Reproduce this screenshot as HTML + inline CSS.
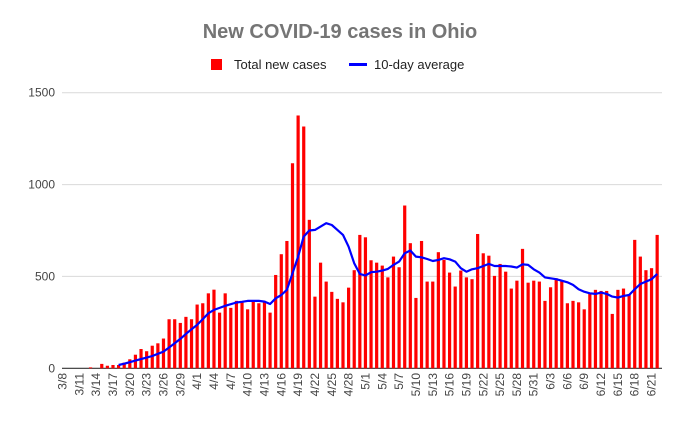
<!DOCTYPE html>
<html><head><meta charset="utf-8"><style>
body{margin:0;background:#fff;}
svg{display:block;font-family:"Liberation Sans",Arial,sans-serif;}
</style></head><body>
<svg id="chart" width="680" height="422">
<text x="340" y="38" text-anchor="middle" font-size="20" font-weight="bold" fill="#757575">New COVID-19 cases in Ohio</text>
<g>
<g><rect x="211" y="59" width="11" height="11" fill="#ff0000"/><text x="234" y="69" font-size="13" fill="#222">Total new cases</text></g>
<g><line x1="349" y1="64.5" x2="367" y2="64.5" stroke="#0000ff" stroke-width="3"/><text x="374" y="69" font-size="13" fill="#222">10-day average</text></g>
</g>
<g id="grid"></g><g id="bars"></g><g id="line"></g><g id="xt"></g>
</svg>
<script>
const startMonth=3, startDay=8;
const cases=[0,0,0,0,0,5,0,24,14,18,18,31,49,74,105,93,123,136,162,267,267,247,280,267,347,354,408,428,303,408,329,367,358,321,363,354,367,303,508,621,693,1116,1376,1316,808,390,575,472,416,378,359,439,534,726,713,588,575,559,495,608,550,886,681,383,693,472,472,632,590,521,445,532,495,485,731,626,613,503,568,526,434,477,650,466,477,472,367,441,490,477,354,367,359,321,405,427,421,421,296,427,434,399,699,608,534,545,726];
const avg=[null,null,null,null,null,null,null,null,null,null,18,25,33,42,50,58,67,79,91,113,136,160,187,212,236,268,300,318,329,340,349,358,362,367,367,367,363,350,381,399,427,517,608,717,750,753,771,790,780,753,726,662,572,514,505,523,526,532,541,563,581,626,641,608,604,595,584,590,599,593,581,545,526,539,545,557,568,557,557,557,554,548,566,563,539,521,495,490,485,477,468,454,430,417,408,405,412,405,390,385,394,399,430,459,472,485,514];
const yTicks=[0,500,1000,1500];
const x0=62.5,dx=5.61,y0=368.3,ky=275.6/1500;
const X=i=>x0+i*dx, Y=v=>y0-v*ky;
const NS="http://www.w3.org/2000/svg";
function mk(t,p,parent){const e=document.createElementNS(NS,t);for(const k in p)e.setAttribute(k,p[k]);parent.appendChild(e);return e;}
const grid=document.getElementById('grid');
yTicks.forEach(v=>{
 const l=mk('line',{x1:62,x2:662,y1:Y(v),y2:Y(v),stroke:v?'#d9d9d9':'#333','stroke-width':v?1:1.2},grid);
 
 
 const t=mk('text',{x:55,y:Y(v)+4,'text-anchor':'end','font-size':12,fill:'#444'},grid);
 t.textContent=v;
 
 
});
const bars=document.getElementById('bars');
cases.forEach((v,i)=>{
 if(v<=0)return;
 const r=mk('rect',{x:X(i)-1.6,y:Y(v),width:3.2,height:y0-Y(v),fill:'#ff0000'},bars);
 
 
});
let d='';avg.forEach((v,i)=>{if(v==null)return;d+=(d?'L':'M')+X(i).toFixed(1)+','+Y(v).toFixed(1);});
const p=mk('path',{d:d,fill:'none',stroke:'#0000ff','stroke-width':2.2,'stroke-linejoin':'round'},document.getElementById('line'));


const xt=document.getElementById('xt');
const dt=new Date(2020,startMonth-1,startDay);
for(let i=0;i<cases.length;i+=3){
 const dd=new Date(dt.getTime()+i*86400000);
 const lab=(dd.getMonth()+1)+'/'+dd.getDate();
 const t=mk('text',{x:0,y:0,'text-anchor':'end','font-size':12,fill:'#444',transform:'translate('+(X(i)+4)+',373) rotate(-90)'},xt);
 t.textContent=lab;
 
 
}
</script>
</body></html>
